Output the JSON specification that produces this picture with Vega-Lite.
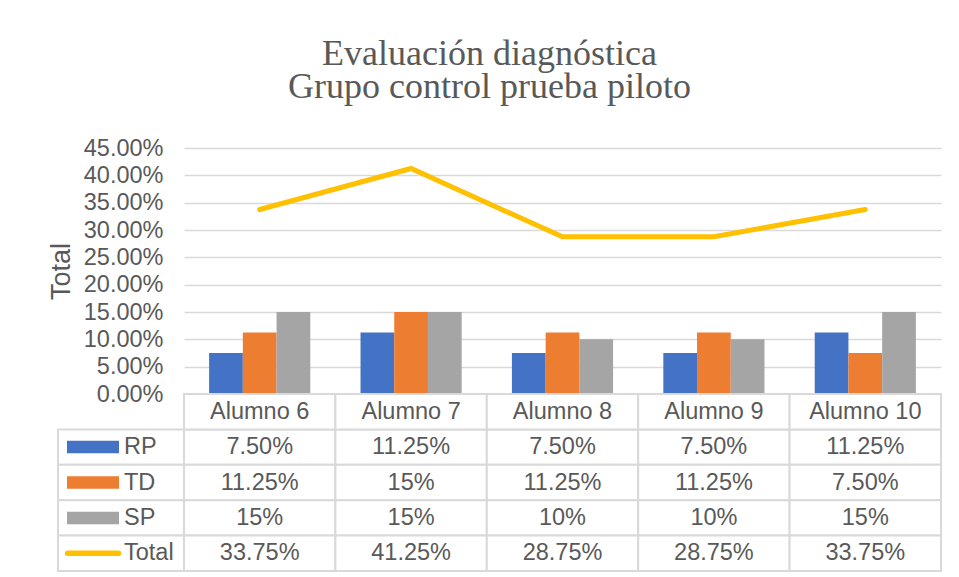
{
  "$schema": "https://vega.github.io/schema/vega-lite/v6.json",
  "padding": {"left": 47, "top": 35, "right": 10, "bottom": 4},
  "background": "white",
  "config": {"view": {"stroke": null}, "font": "Liberation Sans"},
  "title": {
    "text": ["Evaluación diagnóstica", "Grupo control prueba piloto"],
    "font": "Liberation Serif", "fontSize": 36, "fontWeight": "normal",
    "color": "#595959", "lineHeight": 33, "anchor": "middle", "offset": 30.2, "dx": -5
  },
  "datasets": {
    "datos": [
      {"alumno": "Alumno 6", "serie": "RP", "valor": 0.075},
      {"alumno": "Alumno 6", "serie": "TD", "valor": 0.1125},
      {"alumno": "Alumno 6", "serie": "SP", "valor": 0.15},
      {"alumno": "Alumno 6", "serie": "Total", "valor": 0.3375},
      {"alumno": "Alumno 7", "serie": "RP", "valor": 0.1125},
      {"alumno": "Alumno 7", "serie": "TD", "valor": 0.15},
      {"alumno": "Alumno 7", "serie": "SP", "valor": 0.15},
      {"alumno": "Alumno 7", "serie": "Total", "valor": 0.4125},
      {"alumno": "Alumno 8", "serie": "RP", "valor": 0.075},
      {"alumno": "Alumno 8", "serie": "TD", "valor": 0.1125},
      {"alumno": "Alumno 8", "serie": "SP", "valor": 0.10},
      {"alumno": "Alumno 8", "serie": "Total", "valor": 0.2875},
      {"alumno": "Alumno 9", "serie": "RP", "valor": 0.075},
      {"alumno": "Alumno 9", "serie": "TD", "valor": 0.1125},
      {"alumno": "Alumno 9", "serie": "SP", "valor": 0.10},
      {"alumno": "Alumno 9", "serie": "Total", "valor": 0.2875},
      {"alumno": "Alumno 10", "serie": "RP", "valor": 0.1125},
      {"alumno": "Alumno 10", "serie": "TD", "valor": 0.075},
      {"alumno": "Alumno 10", "serie": "SP", "valor": 0.15},
      {"alumno": "Alumno 10", "serie": "Total", "valor": 0.3375}
    ]
  },
  "bounds": "flush",
  "spacing": 0,
  "columns": 2,
  "concat": [
    {
      "width": 126, "height": 246,
      "data": {"values": [{}]},
      "mark": {"type": "text", "text": ""},
      "encoding": {}
    },
    {
      "width": 757, "height": 246,
      "data": {"name": "datos"},
      "encoding": {
        "x": {"field": "alumno", "type": "nominal",
              "scale": {"domain": ["Alumno 6", "Alumno 7", "Alumno 8", "Alumno 9", "Alumno 10"], "paddingInner": 0, "paddingOuter": 0},
              "axis": null},
        "y": {"field": "valor", "type": "quantitative",
              "scale": {"domain": [0, 0.45], "nice": false, "zero": true},
              "axis": {
                "title": "Total", "titleFont": "Liberation Sans", "titleFontSize": 27,
                "titleFontWeight": "normal", "titleColor": "#595959", "titlePadding": 8,
                "minExtent": 101, "maxExtent": 101,
                "labelFont": "Liberation Sans", "labelFontSize": 23.5, "labelColor": "#595959",
                "labelPadding": 21, "ticks": false, "domain": false,
                "grid": true, "gridColor": "#d9d9d9", "gridWidth": 1.5,
                "values": [0, 0.05, 0.1, 0.15, 0.2, 0.25, 0.3, 0.35, 0.4, 0.45],
                "format": ".2%", "labelOverlap": false
              }}
      },
      "layer": [
        {
          "transform": [{"filter": "datum.serie != 'Total'"}],
          "mark": {"type": "bar"},
          "encoding": {
            "xOffset": {"field": "serie", "type": "nominal",
                        "scale": {"domain": ["RP", "TD", "SP"], "paddingInner": 0, "paddingOuter": 0.745}},
            "color": {"field": "serie", "type": "nominal",
                      "scale": {"domain": ["RP", "TD", "SP", "Total"], "range": ["#4472C4", "#ED7D31", "#A5A5A5", "#FFC000"]},
                      "legend": null}
          }
        },
        {
          "transform": [{"filter": "datum.serie == 'Total'"}],
          "mark": {"type": "line", "color": "#FFC000", "strokeWidth": 5, "strokeCap": "round"},
          "encoding": {}
        }
      ]
    },
    {
      "width": 126, "height": 177,
      "data": {"name": "datos"},
      "transform": [{"filter": "datum.alumno == 'Alumno 6'"}],
      "encoding": {
        "y": {"field": "serie", "type": "nominal",
              "scale": {"domain": ["Encabezado", "RP", "TD", "SP", "Total"], "paddingInner": 0, "paddingOuter": 0},
              "axis": null}
      },
      "layer": [
        {
          "mark": {"type": "rect", "fill": "white", "stroke": "#d9d9d9", "strokeWidth": 2}
        },
        {
          "transform": [{"filter": "datum.serie != 'Total'"}],
          "mark": {"type": "point", "filled": true, "opacity": 1,
                   "shape": "M-0.865,-0.24H1.135V0.24H-0.865Z", "size": 2704},
          "encoding": {
            "x": {"datum": "simbolo", "type": "nominal",
                  "scale": {"domain": ["simbolo", "texto"], "paddingInner": 0, "paddingOuter": 0},
                  "axis": null},
            "color": {"field": "serie", "type": "nominal",
                      "scale": {"domain": ["RP", "TD", "SP", "Total"], "range": ["#4472C4", "#ED7D31", "#A5A5A5", "#FFC000"]},
                      "legend": null}
          }
        },
        {
          "transform": [{"filter": "datum.serie == 'Total'"}],
          "mark": {"type": "point", "filled": false, "opacity": 1,
                   "shape": "M-0.86,0H1.14", "size": 2601,
                   "stroke": "#FFC000", "strokeWidth": 5.5, "strokeCap": "round"},
          "encoding": {
            "x": {"datum": "simbolo", "type": "nominal"}
          }
        },
        {
          "mark": {"type": "text", "align": "left", "baseline": "middle", "dx": -28.5,
                   "font": "Liberation Sans", "fontSize": 23.5, "color": "#595959"},
          "encoding": {
            "x": {"datum": "texto", "type": "nominal"},
            "text": {"field": "serie"}
          }
        }
      ]
    },
    {
      "width": 757, "height": 177,
      "data": {"name": "datos"},
      "encoding": {
        "x": {"field": "alumno", "type": "nominal",
              "scale": {"domain": ["Alumno 6", "Alumno 7", "Alumno 8", "Alumno 9", "Alumno 10"], "paddingInner": 0, "paddingOuter": 0},
              "axis": null}
      },
      "layer": [
        {
          "mark": {"type": "rect", "fill": "white", "stroke": "#d9d9d9", "strokeWidth": 2},
          "encoding": {
            "y": {"field": "serie", "type": "nominal",
                  "scale": {"domain": ["Encabezado", "RP", "TD", "SP", "Total"], "paddingInner": 0, "paddingOuter": 0},
                  "axis": null}
          }
        },
        {
          "transform": [{"filter": "datum.serie == 'Total'"}],
          "mark": {"type": "rect", "fill": "white", "stroke": "#d9d9d9", "strokeWidth": 2},
          "encoding": {
            "y": {"datum": "Encabezado", "type": "nominal"}
          }
        },
        {
          "mark": {"type": "text", "baseline": "middle", "font": "Liberation Sans", "fontSize": 23.5, "color": "#595959"},
          "encoding": {
            "y": {"field": "serie", "type": "nominal"},
            "text": {
              "condition": {"test": "abs(datum.valor*100 - round(datum.valor*100)) < 0.000001",
                            "field": "valor", "type": "quantitative", "format": ".0%"},
              "field": "valor", "type": "quantitative", "format": ".2%"
            }
          }
        },
        {
          "transform": [{"filter": "datum.serie == 'Total'"}],
          "mark": {"type": "text", "baseline": "middle", "font": "Liberation Sans", "fontSize": 23.5, "color": "#595959"},
          "encoding": {
            "y": {"datum": "Encabezado", "type": "nominal"},
            "text": {"field": "alumno"}
          }
        }
      ]
    }
  ]
}
